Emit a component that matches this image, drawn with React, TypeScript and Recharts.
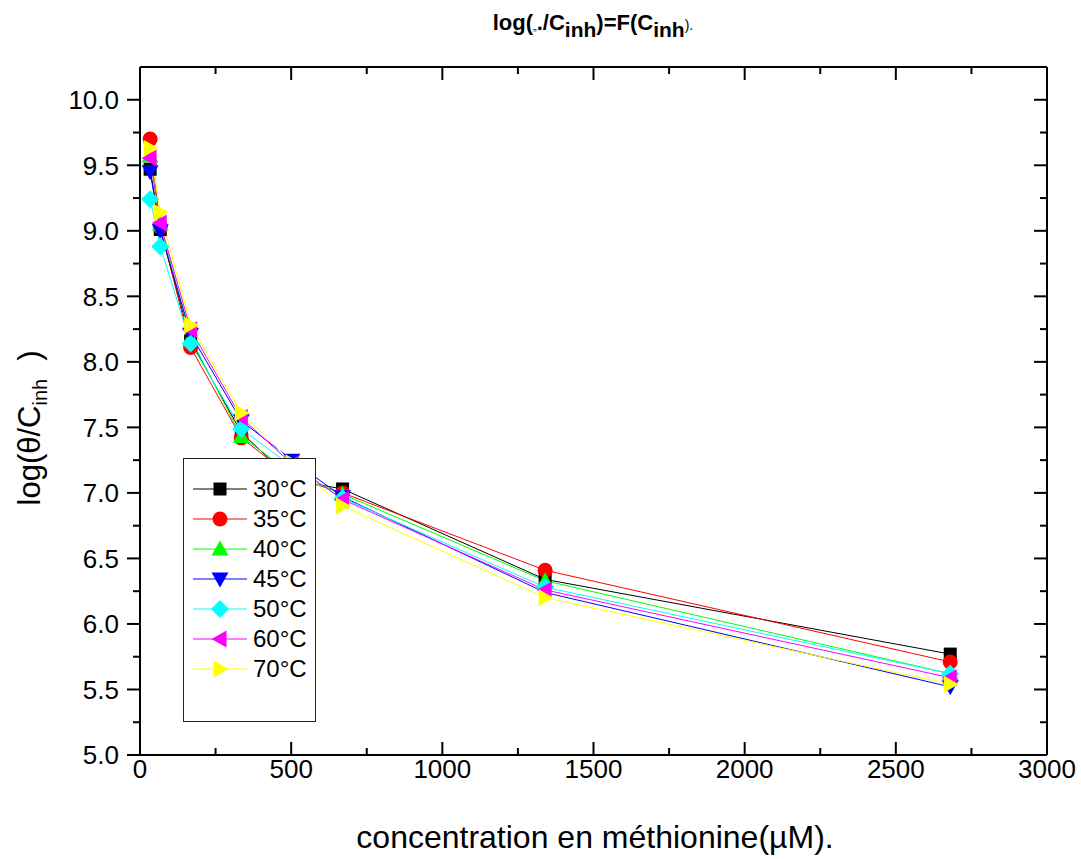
import React from 'react';
import { LineChart, Line, XAxis, YAxis, Legend } from 'recharts';

const concentrations = [33.5, 67, 167.5, 335, 502.5, 670, 1340, 2680];
const series30 = [9.47, 9.01, 8.16, 7.46, 7.10, 7.03, 6.34, 5.77];
const series35 = [9.70, 9.03, 8.11, 7.42, 7.12, 7.00, 6.41, 5.71];
const series40 = [9.57, 9.05, 8.18, 7.43, 7.15, 6.99, 6.33, 5.62];
const series45 = [9.45, 9.00, 8.21, 7.55, 7.25, 6.97, 6.24, 5.52];
const series50 = [9.24, 8.88, 8.14, 7.49, 7.20, 6.96, 6.28, 5.62];
const series60 = [9.555, 9.06, 8.245, 7.575, 7.22, 6.95, 6.26, 5.59];
const series70 = [9.63, 9.14, 8.28, 7.61, 7.23, 6.90, 6.20, 5.54];

const seriesNames = ['30°C', '35°C', '40°C', '45°C', '50°C', '60°C', '70°C'];
const seriesKeys = ['t30', 't35', 't40', 't45', 't50', 't60', 't70'];
const seriesValues = [series30, series35, series40, series45, series50, series60, series70];
const seriesColors = ['#000000', '#ff0000', '#00ff00', '#0000ff', '#00ffff', '#ff00ff', '#ffff00'];
const seriesShapes = ['square', 'circle', 'up', 'down', 'diamond', 'left', 'right'];

const xTicks = [0, 250, 500, 750, 1000, 1250, 1500, 1750, 2000, 2250, 2500, 2750, 3000];
const yTicks = [5, 5.25, 5.5, 5.75, 6, 6.25, 6.5, 6.75, 7, 7.25, 7.5, 7.75, 8, 8.25, 8.5, 8.75, 9, 9.25, 9.5, 9.75, 10];

const data = concentrations.map((c, i) => {
  const row: any = { x: c };
  seriesKeys.forEach((k, j) => { row[k] = seriesValues[j][i]; });
  return row;
});

const FONT = '"Liberation Sans", Arial, sans-serif';
const TICK_FONT = 26;

function Marker({ cx, cy, shape, color }: any) {
  switch (shape) {
    case 'square':
      return <rect x={cx - 6.5} y={cy - 6.5} width={13} height={13} fill={color} />;
    case 'circle':
      return <circle cx={cx} cy={cy} r={7.5} fill={color} />;
    case 'up':
      return <polygon points={`${cx},${cy - 8.5} ${cx + 8.5},${cy + 6.5} ${cx - 8.5},${cy + 6.5}`} fill={color} />;
    case 'down':
      return <polygon points={`${cx},${cy + 8.5} ${cx + 8.5},${cy - 6.5} ${cx - 8.5},${cy - 6.5}`} fill={color} />;
    case 'diamond':
      return <polygon points={`${cx},${cy - 9} ${cx + 9},${cy} ${cx},${cy + 9} ${cx - 9},${cy}`} fill={color} />;
    case 'left':
      return <polygon points={`${cx - 8.5},${cy} ${cx + 6.5},${cy - 8.5} ${cx + 6.5},${cy + 8.5}`} fill={color} />;
    case 'right':
    default:
      return <polygon points={`${cx + 8.5},${cy} ${cx - 6.5},${cy - 8.5} ${cx - 6.5},${cy + 8.5}`} fill={color} />;
  }
}

const isMajorY = (v: number) => Math.abs(v * 2 - Math.round(v * 2)) < 1e-6;
const isMajorX = (v: number) => Math.abs(v / 500 - Math.round(v / 500)) < 1e-6;

const LeftTick = (p: any) => {
  const { x, y, payload } = p;
  const v = payload.value;
  const major = isMajorY(v);
  return (
    <g>
      <line x1={x - (major ? 13 : 7)} x2={x} y1={y} y2={y} stroke="#000" strokeWidth={2} />
      {major && (
        <text x={x - 21} y={y} dy="0.36em" textAnchor="end" fontSize={TICK_FONT} fontFamily={FONT} fill="#000">
          {v.toFixed(1)}
        </text>
      )}
    </g>
  );
};

const RightTick = (p: any) => {
  const { x, y, payload } = p;
  const major = isMajorY(payload.value);
  return <line x1={x - (major ? 13 : 7)} x2={x} y1={y} y2={y} stroke="#000" strokeWidth={2} />;
};

const BottomTick = (p: any) => {
  const { x, y, payload } = p;
  const v = payload.value;
  const major = isMajorX(v);
  return (
    <g>
      <line x1={x} x2={x} y1={y - (major ? 13 : 7)} y2={y} stroke="#000" strokeWidth={2} />
      {major && (
        <text x={x} y={y + 23} textAnchor="middle" fontSize={TICK_FONT} fontFamily={FONT} fill="#000">
          {String(v)}
        </text>
      )}
    </g>
  );
};

const TopTick = (p: any) => {
  const { x, y, payload } = p;
  const major = isMajorX(payload.value);
  return <line x1={x} x2={x} y1={y} y2={y + (major ? 13 : 7)} stroke="#000" strokeWidth={2} />;
};

const LegendBox = () => (
  <div
    style={{
      width: 133,
      height: 264,
      boxSizing: 'border-box',
      border: '1px solid #222',
      background: '#fff',
      paddingTop: 15,
      fontFamily: FONT,
    }}
  >
    {seriesNames.map((name, i) => (
      <div key={name} style={{ height: 30, display: 'flex', alignItems: 'center', position: 'relative' }}>
        <svg width={66} height={30} style={{ display: 'block' }}>
          <line x1={9} x2={63} y1={15} y2={15} stroke={seriesColors[i]} strokeWidth={1} />
          <Marker cx={36} cy={15} shape={seriesShapes[i]} color={seriesColors[i]} />
        </svg>
        <span style={{ fontSize: 24, color: '#000', marginLeft: 3, lineHeight: '30px' }}>{name}</span>
      </div>
    ))}
  </div>
);

const PLOT_LEFT = 140;
const PLOT_TOP = 67;
const PLOT_RIGHT = 1047;
const PLOT_BOTTOM = 755;
const AX_W = 40;
const AX_H = 30;

export default function App() {
  return (
    <div style={{ position: 'absolute', left: 0, top: 0, width: 1081, height: 859, background: '#fff', fontFamily: FONT }}>
      <LineChart
        width={1081}
        height={859}
        data={data}
        margin={{
          top: PLOT_TOP - AX_H,
          right: 1081 - PLOT_RIGHT - AX_W,
          bottom: 859 - PLOT_BOTTOM - AX_H,
          left: PLOT_LEFT - AX_W,
        }}
      >
        <XAxis
          xAxisId="bottom"
          dataKey="x"
          type="number"
          domain={[0, 3000]}
          ticks={xTicks}
          interval={0}
          height={AX_H}
          orientation="bottom"
          axisLine={{ stroke: '#000', strokeWidth: 2 }}
          tickLine={false}
          tickSize={0}
          tickMargin={0}
          tick={(p: any) => <BottomTick {...p} />}
          allowDataOverflow
        />
        <XAxis
          xAxisId="top"
          dataKey="x"
          type="number"
          domain={[0, 3000]}
          ticks={xTicks}
          interval={0}
          height={AX_H}
          orientation="top"
          axisLine={{ stroke: '#000', strokeWidth: 2 }}
          tickLine={false}
          tickSize={0}
          tickMargin={0}
          tick={(p: any) => <TopTick {...p} />}
          allowDataOverflow
        />
        <YAxis
          yAxisId="left"
          type="number"
          domain={[5, 10.25]}
          ticks={yTicks}
          interval={0}
          width={AX_W}
          orientation="left"
          axisLine={{ stroke: '#000', strokeWidth: 2 }}
          tickLine={false}
          tickSize={0}
          tickMargin={0}
          tick={(p: any) => <LeftTick {...p} />}
          allowDataOverflow
        />
        <YAxis
          yAxisId="right"
          type="number"
          domain={[5, 10.25]}
          ticks={yTicks}
          interval={0}
          width={AX_W}
          orientation="right"
          axisLine={{ stroke: '#000', strokeWidth: 2 }}
          tickLine={false}
          tickSize={0}
          tickMargin={0}
          tick={(p: any) => <RightTick {...p} />}
          allowDataOverflow
        />
        {seriesKeys.map((k, i) => (
          <Line
            key={k}
            xAxisId="bottom"
            yAxisId="left"
            type="linear"
            dataKey={k}
            name={seriesNames[i]}
            stroke={seriesColors[i]}
            strokeWidth={1}
            isAnimationActive={false}
            dot={(p: any) => (
              <Marker key={`${k}-${p.index}`} cx={p.cx} cy={p.cy} shape={seriesShapes[i]} color={seriesColors[i]} />
            )}
            activeDot={false}
          />
        ))}
        <Legend
          layout="vertical"
          align="center"
          verticalAlign="middle"
          content={() => <LegendBox />}
          wrapperStyle={{ position: 'absolute', left: 183, top: 458, width: 133, height: 264 }}
        />
      </LineChart>

      <div
        style={{
          position: 'absolute',
          left: 0,
          width: 1081,
          top: 9,
          textAlign: 'center',
          paddingLeft: 105,
          boxSizing: 'border-box',
          fontSize: 22,
          lineHeight: '28px',
          color: '#000',
          whiteSpace: 'nowrap',
        }}
      >
        <b>log(</b>
        <span style={{ fontSize: 11 }}>„</span>
        <b>./C<sub style={{ fontSize: 21, verticalAlign: '-7px', lineHeight: 0 }}>inh</sub>)=F(C<sub style={{ fontSize: 21, verticalAlign: '-7px', lineHeight: 0 }}>inh</sub></b>
        <span style={{ fontSize: 14 }}>).</span>
      </div>

      <div
        style={{
          position: 'absolute',
          left: 30,
          top: 428,
          transform: 'translate(-50%, -50%) rotate(-90deg)',
          fontSize: 31,
          whiteSpace: 'nowrap',
          color: '#000',
          lineHeight: '36px',
        }}
      >
        log(θ/C<sub style={{ fontSize: 20, verticalAlign: '-7px', lineHeight: 0 }}>inh</sub>
        <span style={{ marginLeft: 18 }}>)</span>
      </div>

      <div
        style={{
          position: 'absolute',
          left: 0,
          width: 1081,
          paddingLeft: 109,
          boxSizing: 'border-box',
          top: 818,
          textAlign: 'center',
          fontSize: 32,
          lineHeight: '38px',
          color: '#000',
          whiteSpace: 'nowrap',
        }}
      >
        concentration en méthionine(µM).
      </div>
    </div>
  );
}
